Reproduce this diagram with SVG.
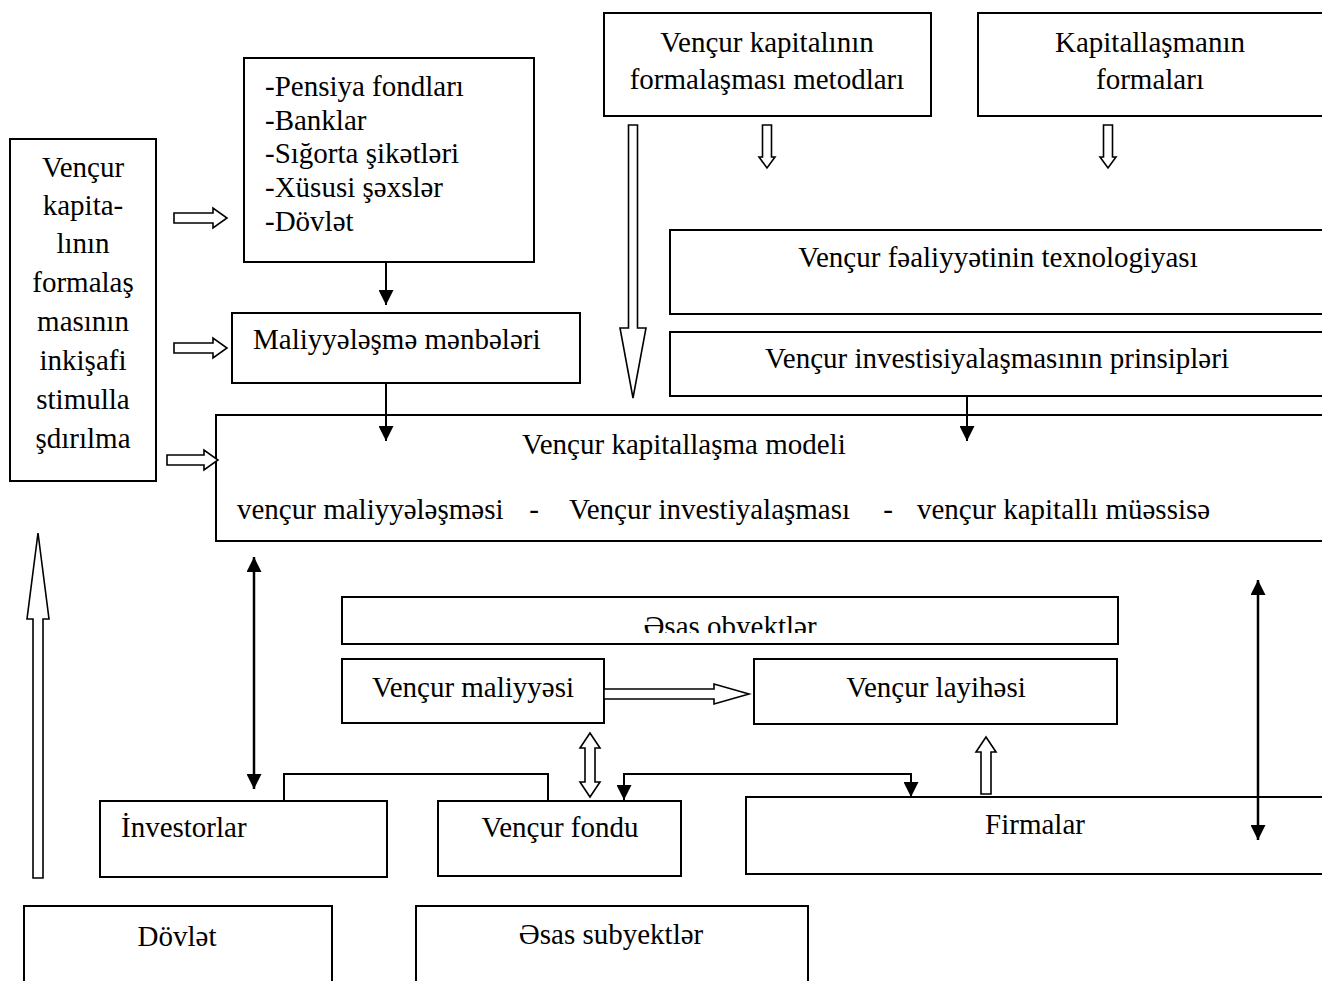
<svg xmlns="http://www.w3.org/2000/svg" width="1322" height="981" viewBox="0 0 1322 981">
  <style>
    .box { fill: #fff; stroke: #000; stroke-width: 2; }
    .t { font-family: "Liberation Serif", "Times New Roman", serif; font-size: 29px; fill: #000; }
    .c { text-anchor: middle; }
    .line { fill: none; stroke: #000; stroke-width: 2; }
    .dbl { fill: none; stroke: #000; stroke-width: 2.5; }
    .hollow { fill: #fff; stroke: #000; stroke-width: 1.6; stroke-linejoin: miter; }
  </style>
  <defs>
    <marker id="head" markerUnits="userSpaceOnUse" markerWidth="15" markerHeight="15" refX="15" refY="7.5" orient="auto-start-reverse">
      <path d="M0,0 L15,7.5 L0,15 Z" fill="#000"/>
    </marker>
    <clipPath id="clipObj">
      <rect x="342" y="597" width="776" height="36"/>
    </clipPath>
  </defs>
  <rect width="1322" height="981" fill="#fff"/>

  <!-- left column: stimulation of formation -->
  <g id="stimul">
    <rect class="box" x="10" y="139" width="146" height="342"/>
    <text class="t c" x="83" y="177">Vençur</text>
    <text class="t c" x="83" y="215">kapita-</text>
    <text class="t c" x="83" y="253">lının</text>
    <text class="t c" x="83" y="292">formalaş</text>
    <text class="t c" x="83" y="331">masının</text>
    <text class="t c" x="83" y="370">inkişafi</text>
    <text class="t c" x="83" y="409">stimulla</text>
    <text class="t c" x="83" y="448">şdırılma</text>
  </g>

  <g id="sources-list">
    <rect class="box" x="244" y="58" width="290" height="204"/>
    <text class="t" x="265" y="96">-Pensiya fondları</text>
    <text class="t" x="265" y="130">-Banklar</text>
    <text class="t" x="265" y="163">-Sığorta şikətləri</text>
    <text class="t" x="265" y="197">-Xüsusi şəxslər</text>
    <text class="t" x="265" y="231">-Dövlət</text>
  </g>

  <g id="sources">
    <rect class="box" x="232" y="313" width="348" height="70"/>
    <text class="t" x="253" y="349">Maliyyələşmə mənbələri</text>
  </g>

  <g id="methods">
    <rect class="box" x="604" y="13" width="327" height="103"/>
    <text class="t c" x="767" y="52">Vençur kapitalının</text>
    <text class="t c" x="767" y="89">formalaşması metodları</text>
  </g>

  <g id="forms">
    <rect class="box" x="978" y="13" width="360" height="103"/>
    <text class="t c" x="1150" y="52">Kapitallaşmanın</text>
    <text class="t c" x="1150" y="89">formaları</text>
  </g>

  <g id="technology">
    <rect class="box" x="670" y="230" width="670" height="84"/>
    <text class="t c" x="998" y="267">Vençur fəaliyyətinin texnologiyası</text>
  </g>

  <g id="principles">
    <rect class="box" x="670" y="332" width="670" height="64"/>
    <text class="t c" x="997" y="368">Vençur investisiyalaşmasının prinsipləri</text>
  </g>

  <g id="model">
    <rect class="box" x="216" y="415" width="1130" height="126"/>
    <text class="t" x="522" y="454">Vençur kapitallaşma modeli</text>
    <text class="t" x="237" y="519">vençur maliyyələşməsi</text>
    <text class="t c" x="534" y="519">-</text>
    <text class="t" x="569" y="519">Vençur investiyalaşması</text>
    <text class="t c" x="888" y="519">-</text>
    <text class="t" x="917" y="519">vençur kapitallı müəssisə</text>
  </g>

  <g id="objects">
    <rect class="box" x="342" y="597" width="776" height="47"/>
    <text class="t c" x="730" y="636" clip-path="url(#clipObj)">Əsas obyektlər</text>
  </g>

  <g id="finance">
    <rect class="box" x="342" y="659" width="262" height="64"/>
    <text class="t c" x="473" y="697">Vençur maliyyəsi</text>
  </g>

  <g id="project">
    <rect class="box" x="754" y="659" width="363" height="65"/>
    <text class="t c" x="936" y="697">Vençur layihəsi</text>
  </g>

  <g id="investors">
    <rect class="box" x="100" y="801" width="287" height="76"/>
    <text class="t" x="121" y="837">İnvestorlar</text>
  </g>

  <g id="fund">
    <rect class="box" x="438" y="801" width="243" height="75"/>
    <text class="t c" x="560" y="837">Vençur fondu</text>
  </g>

  <g id="firms">
    <rect class="box" x="746" y="797" width="600" height="77"/>
    <text class="t c" x="1035" y="834">Firmalar</text>
  </g>

  <g id="state">
    <rect class="box" x="24" y="906" width="308" height="90"/>
    <text class="t c" x="177" y="946">Dövlət</text>
  </g>

  <g id="subjects">
    <rect class="box" x="416" y="906" width="392" height="90"/>
    <text class="t c" x="611" y="944">Əsas subyektlər</text>
  </g>

  <g id="connectors">
    <!-- block arrows -->
    <polygon class="hollow" points="174,213 213,213 213,208 227,218 213,228 213,223 174,223"/>
    <polygon class="hollow" points="174,343 213,343 213,338 227,348 213,358 213,353 174,353"/>
    <polygon class="hollow" points="167,455 204,455 204,450 218,460 204,470 204,465 167,465"/>
    <polygon class="hollow" points="762.5,125 771.5,125 771.5,157 775,157 767,168 759,157 762.5,157"/>
    <polygon class="hollow" points="1103.5,125 1112.5,125 1112.5,157 1116,157 1108,168 1100,157 1103.5,157"/>
    <polygon class="hollow" points="628.5,125 637.5,125 637.5,328 646,328 633,398 620,328 628.5,328"/>
    <polygon class="hollow" points="33,878 43,878 43,619 49,619 38,533 27,619 33,619"/>
    <polygon class="hollow" points="604,689 714,689 714,684 749,694 714,704 714,699 604,699"/>
    <polygon class="hollow" points="590,733 600,748 595,748 595,782 600,782 590,797 580,782 585,782 585,748 580,748"/>
    <polygon class="hollow" points="986,737 996,752 991,752 991,794 981,794 981,752 976,752"/>

    <!-- line arrows -->
    <line class="line" x1="386" y1="262" x2="386" y2="305" marker-end="url(#head)"/>
    <line class="line" x1="386" y1="383" x2="386" y2="441" marker-end="url(#head)"/>
    <line class="line" x1="967" y1="396" x2="967" y2="441" marker-end="url(#head)"/>
    <line class="dbl" x1="254" y1="557" x2="254" y2="789" marker-start="url(#head)" marker-end="url(#head)"/>
    <line class="dbl" x1="1258" y1="580" x2="1258" y2="840" marker-start="url(#head)" marker-end="url(#head)"/>
    <polyline class="line" points="284,801 284,774 548,774 548,801"/>
    <polyline class="line" points="624,800 624,774 911,774 911,797" marker-start="url(#head)" marker-end="url(#head)"/>
  </g>
</svg>
